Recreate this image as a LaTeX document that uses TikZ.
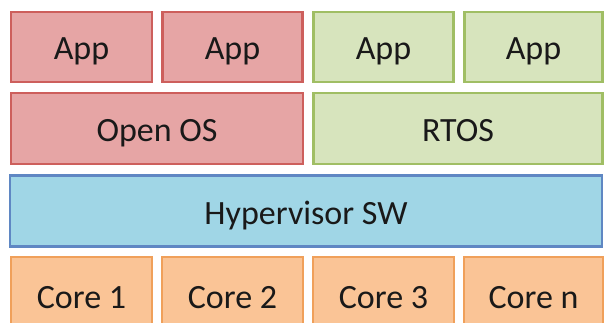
\documentclass[tikz,border=0pt]{standalone}
\usepackage{fontspec}
\setmainfont{Carlito}
\definecolor{redfill}{RGB}{230,165,165}
\definecolor{redline}{RGB}{205,95,92}
\definecolor{greenfill}{RGB}{215,228,189}
\definecolor{greenline}{RGB}{160,190,100}
\definecolor{bluefill}{RGB}{160,214,230}
\definecolor{blueline}{RGB}{95,135,195}
\definecolor{orangefill}{RGB}{250,196,150}
\definecolor{orangeline}{RGB}{240,160,90}
\tikzset{
  layerbox/.style={draw, line width=2.2pt, inner sep=0pt, text height=28pt, text depth=2pt,
    font=\fontsize{34}{40}\selectfont, text=black!90},
  redbox/.style={layerbox, fill=redfill, draw=redline},
  greenbox/.style={layerbox, fill=greenfill, draw=greenline},
  bluebox/.style={layerbox, fill=bluefill, draw=blueline},
  orangebox/.style={layerbox, fill=orangefill, draw=orangeline},
}
\begin{document}
\begin{tikzpicture}[x=1pt,y=1pt]
\useasboundingbox (0,0) rectangle (604,-323);
\clip (0,0) rectangle (604,-323);
% row 1: apps
\node[redbox, minimum width=141pt, minimum height=70pt] (app1) at (81.5,-47) {App};
\node[redbox, minimum width=140pt, minimum height=70pt] (app2) at (232.5,-47) {App};
\node[greenbox, minimum width=140pt, minimum height=70pt] (app3) at (383.5,-47) {App};
\node[greenbox, minimum width=138pt, minimum height=70pt] (app4) at (533.5,-47) {App};
% row 2: OS
\node[redbox, minimum width=292pt, minimum height=71pt] (openos) at (157,-128.5) {Open OS};
\node[greenbox, minimum width=289pt, minimum height=71pt] (rtos) at (458,-128.5) {RTOS};
% row 3: hypervisor
\node[bluebox, minimum width=592pt, minimum height=71pt] (hyp) at (306,-211) {Hypervisor SW};
% row 4: cores
\node[orangebox, minimum width=141pt, minimum height=76pt] (core1) at (81.5,-295) {Core 1};
\node[orangebox, minimum width=141pt, minimum height=76pt] (core2) at (232.5,-295) {Core 2};
\node[orangebox, minimum width=141pt, minimum height=76pt] (core3) at (383.5,-295) {Core 3};
\node[orangebox, minimum width=139pt, minimum height=76pt] (coren) at (533.5,-295) {Core n};
\end{tikzpicture}
\end{document}
